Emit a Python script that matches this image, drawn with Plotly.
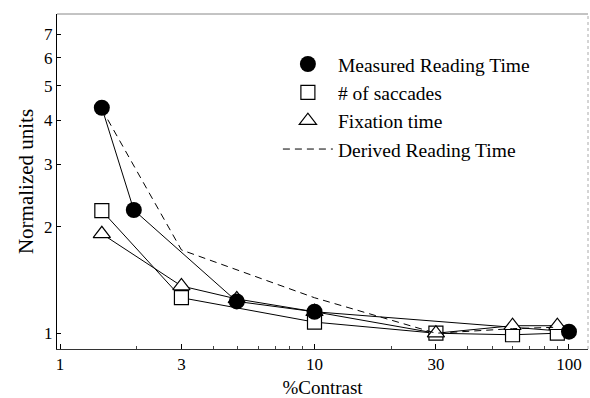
import plotly.graph_objects as go

# Contrast levels (%) and normalized values for each measure
contrast_measured = [1.46, 1.95, 4.95, 10, 100]
measured_reading = [4.34, 2.23, 1.23, 1.15, 1.01]

contrast_saccades = [1.46, 3, 10, 30, 60, 90]
saccades = [2.22, 1.26, 1.075, 1.0, 0.99, 1.0]

contrast_fixation = [1.46, 3, 4.95, 10, 30, 60, 90]
fixation = [1.91, 1.36, 1.25, 1.15, 1.0, 1.05, 1.05]

contrast_derived = [1.46, 3, 10, 30, 60, 90]
derived_reading = [4.3, 1.72, 1.26, 1.0, 1.03, 1.04]

x_ticks = [1, 3, 10, 30, 100]
x_minor = [2, 4, 5, 6, 7, 8, 9, 20, 40, 50, 60, 70, 80, 90]
y_ticks = [1, 2, 3, 4, 5, 6, 7]

SERIF = "Liberation Serif, Times New Roman, serif"
INK = "black"

fig = go.Figure()

# connecting lines (no legend entries)
for xs, ys in [(contrast_saccades, saccades),
               (contrast_fixation, fixation),
               (contrast_measured, measured_reading)]:
    fig.add_trace(go.Scatter(x=xs, y=ys, mode="lines",
                             line=dict(color=INK, width=1),
                             showlegend=False, hoverinfo="skip"))

# markers, drawn squares -> triangles -> circles
fig.add_trace(go.Scatter(x=contrast_saccades, y=saccades, mode="markers",
                         name="# of saccades", legendrank=2,
                         marker=dict(symbol="square", size=14, color="white",
                                     line=dict(color=INK, width=1.2))))
fig.add_trace(go.Scatter(x=contrast_fixation, y=fixation, mode="markers",
                         name="Fixation time", legendrank=3,
                         marker=dict(symbol="triangle-up", size=15, color="white",
                                     line=dict(color=INK, width=1.2))))
fig.add_trace(go.Scatter(x=contrast_measured, y=measured_reading, mode="markers",
                         name="Measured Reading Time", legendrank=1,
                         marker=dict(symbol="circle", size=16, color=INK,
                                     line=dict(color=INK, width=0))))
fig.add_trace(go.Scatter(x=contrast_derived, y=derived_reading, mode="lines",
                         name="Derived Reading Time", legendrank=4,
                         line=dict(color=INK, width=1, dash="7px,5px")))

fig.update_layout(
    width=590, height=398,
    margin=dict(l=57, r=2, t=14, b=44),
    paper_bgcolor="white", plot_bgcolor="white",
    font=dict(family=SERIF, color=INK, size=17),
    legend=dict(x=0.416, y=0.908, xanchor="left", yanchor="top",
                bgcolor="rgba(0,0,0,0)", font=dict(size=19.5, family=SERIF),
                itemwidth=50, traceorder="normal", tracegroupgap=0),
    showlegend=True,
)

fig.update_xaxes(
    type="log", range=[-0.0118, 2.0747],
    tickvals=x_ticks, ticktext=[str(v) for v in x_ticks],
    ticks="inside", ticklen=5, tickcolor=INK,
    minor=dict(tickvals=x_minor, ticks="inside", ticklen=3, tickcolor="#444"),
    showline=True, linecolor="#333", linewidth=1,
    showgrid=False, zeroline=False,
    tickfont=dict(size=17, family=SERIF),
    title=dict(text="%Contrast", font=dict(size=19, family=SERIF), standoff=8),
)
fig.update_yaxes(
    type="log", range=[-0.0446, 0.9025],
    tickvals=y_ticks, ticktext=[str(v) for v in y_ticks],
    ticks="inside", ticklen=4, tickcolor=INK,
    showline=True, linecolor=INK, linewidth=1.3,
    showgrid=False, zeroline=False,
    tickfont=dict(size=17, family=SERIF),
    title=dict(text="Normalized units", font=dict(size=21, family=SERIF), standoff=4),
)

# faint top and right frame edges
fig.add_shape(type="line", xref="paper", yref="paper", x0=0, x1=1, y0=1, y1=1,
              line=dict(color="#888", width=1))
fig.add_shape(type="line", xref="paper", yref="paper", x0=1, x1=1, y0=0, y1=1,
              line=dict(color="#aaa", width=1, dash="dot"))

fig.write_html("out.html")
